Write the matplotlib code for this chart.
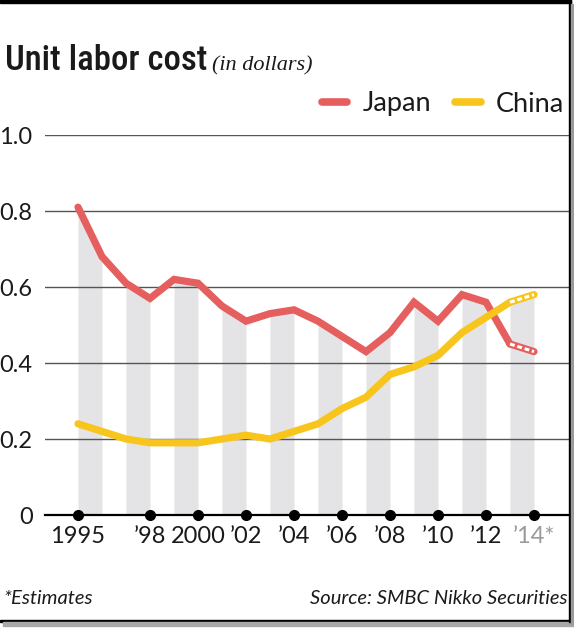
import matplotlib.pyplot as plt
from matplotlib.lines import Line2D
from matplotlib.patches import Rectangle

# data
years = list(range(1995, 2015))
japan = [0.81, 0.68, 0.61, 0.57, 0.62, 0.61, 0.55, 0.51, 0.53, 0.54,
         0.51, 0.47, 0.43, 0.48, 0.56, 0.51, 0.58, 0.56, 0.45, 0.43]
china = [0.24, 0.22, 0.20, 0.19, 0.19, 0.19, 0.20, 0.21, 0.20, 0.22,
         0.24, 0.28, 0.31, 0.37, 0.39, 0.42, 0.48, 0.52, 0.56, 0.58]
tick_years = [1995, 1998, 2000, 2002, 2004, 2006, 2008, 2010, 2012, 2014]
tick_labels = ['1995', '\u201998', '2000', '\u201902', '\u201904', '\u201906',
               '\u201908', '\u201910', '\u201912', '\u201914*']
y_ticks = [0, 0.2, 0.4, 0.6, 0.8, 1.0]
y_labels = ['0', '0.2', '0.4', '0.6', '0.8', '1.0']
n_est = 2  # last two points joined by the estimate segment

red = '#E65F5F'
yellow = '#F8C51C'
bar_grey = '#E4E4E6'
font = 'Lato'
txt = '#1a1a1a'

W, H = 574, 629
fig = plt.figure(figsize=(W / 100, H / 100), dpi=100)

# axes placed in pixel terms
ax_l, ax_r, ax_b, ax_t = 45, 570, 515, 135
ax = fig.add_axes([ax_l / W, 1 - ax_b / H, (ax_r - ax_l) / W, (ax_b - ax_t) / H])
x0 = years[0] - (78 - ax_l) / 24
x1 = years[0] + (ax_r - 78) / 24
ax.set_xlim(x0, x1)
ax.set_ylim(0, 1.0)

# grey stripes under the higher of the two lines
top = [max(a, b) for a, b in zip(japan, china)]
for i in range(0, len(years) - 1, 2):
    ax.fill_between(years[i:i + 2], 0, top[i:i + 2], color=bar_grey, lw=0, zorder=1)

# gridlines
for y in y_ticks[1:]:
    ax.axhline(y, color='#555555', lw=1.0, zorder=2)
ax.axhline(0, color='black', lw=1.6, zorder=2, clip_on=False)

# lines
lw = 5.2
k = len(years) - n_est + 1
ax.plot(years[:k], japan[:k], color=red, lw=lw, solid_capstyle='round',
        solid_joinstyle='miter', zorder=3)
ax.plot(years[k - 1:], japan[k - 1:], color=red, lw=lw, solid_capstyle='round', zorder=3)
ax.plot(years[k - 1:], japan[k - 1:], color='white', lw=2.2, ls=(0, (1.6, 0.9)),
        dash_capstyle='butt', zorder=3.5)
ax.plot(years[:k], china[:k], color=yellow, lw=lw, solid_capstyle='round',
        solid_joinstyle='miter', zorder=4)
ax.plot(years[k - 1:], china[k - 1:], color=yellow, lw=lw, solid_capstyle='round', zorder=4)
ax.plot(years[k - 1:], china[k - 1:], color='white', lw=2.2, ls=(0, (1.6, 0.9)),
        dash_capstyle='butt', zorder=4.5)

# dots on baseline
ax.plot(tick_years, [0] * len(tick_years), 'o', color='black', ms=7,
        clip_on=False, zorder=5)

# ticks
ax.set_xticks(tick_years)
ax.set_xticklabels(tick_labels, fontsize=17, family=font, color=txt)
ax.get_xticklabels()[-1].set_color('#9A9A9A')
ax.set_yticks(y_ticks)
ax.set_yticklabels(y_labels, fontsize=17, family=font, color=txt)
ax.tick_params(length=0)
ax.tick_params(axis='x', pad=8)
ax.tick_params(axis='y', pad=9)
for s in ax.spines.values():
    s.set_visible(False)

# legend
leg_handles = [Line2D([0], [0], color=red, lw=5.5, solid_capstyle='round'),
               Line2D([0], [0], color=yellow, lw=5.5, solid_capstyle='round')]
leg = fig.legend(leg_handles, ['Japan', 'China'], loc='center right',
                 bbox_to_anchor=(575 / W, 1 - 104 / H), ncol=2, frameon=False,
                 prop={'family': font, 'size': 19.5}, handlelength=0.95,
                 handletextpad=0.55, columnspacing=0.9, borderaxespad=0)
for lt in leg.get_texts():
    lt.set_color(txt)

# title
t = fig.text(5 / W, 1 - 70 / H, 'Unit labor cost', fontsize=25,
             family=['Roboto Condensed', 'Open Sans Condensed',
                     'Liberation Sans Narrow', 'Roboto'],
             fontweight='medium', va='baseline', color=txt)
fig.canvas.draw()
bb = t.get_window_extent()
fig.text((bb.x1 + 5) / W, 1 - 70 / H, '(in dollars)', fontsize=16,
         family='Liberation Serif', style='italic', va='baseline', color=txt)

# footnotes
fig.text(3 / W, 1 - 604 / H, '*Estimates', fontsize=14.5, family=font,
         style='italic', va='baseline', color=txt)
fig.text(568 / W, 1 - 604 / H, 'Source: SMBC Nikko Securities', fontsize=14.5,
         family=font, style='italic', va='baseline', ha='right', color=txt)

# frame with shadow
fig.patches.append(Rectangle((0, 1 - 3 / H), 571 / W, 3 / H, color='black',
                             transform=fig.transFigure, figure=fig))
fig.patches.append(Rectangle((569 / W, 1 - 622 / H), 2 / W, 622 / H, color='black',
                             transform=fig.transFigure, figure=fig, zorder=10))
fig.patches.append(Rectangle((571 / W, 1 - 624 / H), 3 / W, 620 / H, color='#9a9a9a',
                             transform=fig.transFigure, figure=fig, zorder=10))
fig.patches.append(Rectangle((0, 1 - 622 / H), 571 / W, 2 / H, color='black',
                             transform=fig.transFigure, figure=fig))
fig.patches.append(Rectangle((3 / W, 1 - 626 / H), 571 / W, 4 / H, color='#a8a8a8',
                             transform=fig.transFigure, figure=fig))

fig.savefig('out.png', dpi=100)
